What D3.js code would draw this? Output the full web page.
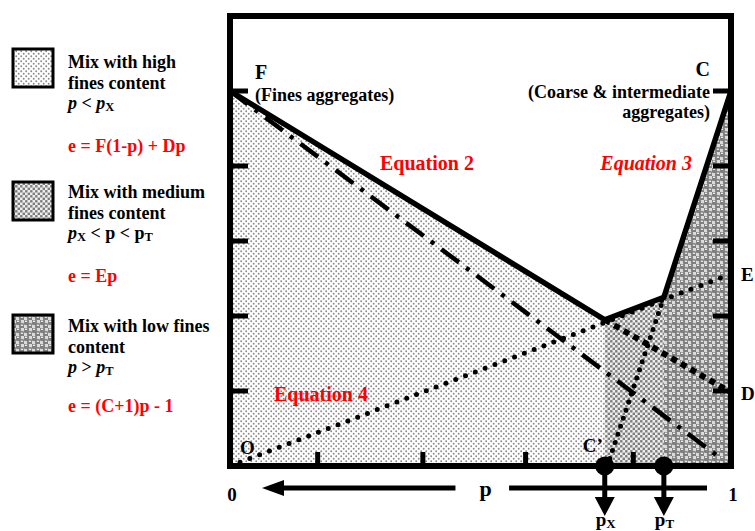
<!DOCTYPE html>
<html>
<head>
<meta charset="utf-8">
<script src="https://cdn.jsdelivr.net/npm/d3@7"></script>
<style>
  body { margin: 0; background: #fff; }
</style>
</head>
<body>
<div id="chart"></div>
<script>
// fraction of fines p on x, void ratio e on y
const eTicks = [1, 2, 3, 4, 5];
const pTicks = [0.175, 0.385, 0.59, 0.805];
const pX = 0.748;
const pT = 0.866;

const envelope = [[0, 5], [0.748, 1.95], [0.866, 2.25], [1, 5]];
const lineFD = [[0, 5], [0.98, 0.1]];
const lineOE = [[0.02, 0.05], [1, 2.56]];
const lineVD = [[0.748, 1.95], [1, 0.98]];
const lineCT = [[0.758, 0.1], [0.866, 2.25]];

const regionHigh = [[0, 0], [0, 5], [0.748, 1.95], [0.748, 0]];
const regionMed = [[0.748, 0], [0.748, 1.95], [0.866, 2.25], [0.866, 0]];
const regionLow = [[0.866, 0], [0.866, 2.25], [1, 5], [1, 0]];

const legendItems = [
  {pattern: "pLight", lines: [
    [{t: "Mix with high"}], [{t: "fines content"}],
    [{t: "p", i: 1}, {t: " < "}, {t: "p", i: 1}, {t: "X", sub: 1}]],
    eq: "e = F(1-p) + Dp"},
  {pattern: "pMed", lines: [
    [{t: "Mix with medium"}], [{t: "fines content"}],
    [{t: "p", i: 1}, {t: "X", sub: 1}, {t: " < p < p"}, {t: "T", sub: 1}]],
    eq: "e = Ep"},
  {pattern: "pLow", lines: [
    [{t: "Mix with low fines"}], [{t: "content"}],
    [{t: "p", i: 1}, {t: " > "}, {t: "p", i: 1}, {t: "T", sub: 1}]],
    eq: "e = (C+1)p - 1"}
];

const FONT = "'Liberation Serif', 'Times New Roman', Times, serif";

class FinesDiagram {

  constructor(element) {
    this.element = element;
    this.width = 755;
    this.height = 531;
    this.draw();
  }

  draw() {
    this.svg = d3.select(this.element)
      .append("svg")
      .attr("width", this.width)
      .attr("height", this.height)
      .attr("font-family", FONT)
      .attr("font-weight", "bold");

    this._createScales();
    this._definePatterns();
    this._drawRegions();
    this._drawLines();
    this._drawFrame();
    this._drawMarkers();
    this._drawLabels();
    this._drawLegend();
  }

  _createScales() {
    this.x = d3.scaleLinear().domain([0, 1]).range([230, 731]);
    this.y = d3.scaleLinear().domain([0, 6]).range([466, 16]);
    this.line = d3.line().x(d => this.x(d[0])).y(d => this.y(d[1]));
  }

  _definePatterns() {
    const defs = this.svg.append("defs");

    const light = defs.append("pattern").attr("id", "pLight")
      .attr("patternUnits", "userSpaceOnUse").attr("width", 5).attr("height", 5);
    light.append("rect").attr("width", 5).attr("height", 5).attr("fill", "#fff");
    light.selectAll("circle").data([[1.2, 1.2], [3.7, 3.7]]).join("circle")
      .attr("cx", d => d[0]).attr("cy", d => d[1]).attr("r", 0.95).attr("fill", "#8a8a8a");

    const med = defs.append("pattern").attr("id", "pMed")
      .attr("patternUnits", "userSpaceOnUse").attr("width", 5).attr("height", 5);
    med.append("rect").attr("width", 5).attr("height", 5).attr("fill", "#eeeeee");
    med.selectAll("rect.sq").data([[0.1, 0.1], [2.6, 2.6]]).join("rect")
      .attr("class", "sq")
      .attr("x", d => d[0]).attr("y", d => d[1])
      .attr("width", 2.4).attr("height", 2.4).attr("fill", "#7c7c7c");

    const low = defs.append("pattern").attr("id", "pLow")
      .attr("patternUnits", "userSpaceOnUse").attr("width", 8).attr("height", 8);
    low.append("rect").attr("width", 8).attr("height", 8).attr("fill", "#dcdcdc");
    low.selectAll("circle.b").data([[2, 2], [6, 6]]).join("circle")
      .attr("class", "b")
      .attr("cx", d => d[0]).attr("cy", d => d[1]).attr("r", 3.1).attr("fill", "#7f7f7f");
    low.selectAll("ellipse").data([[2, 1.3], [6, 5.3]]).join("ellipse")
      .attr("cx", d => d[0]).attr("cy", d => d[1]).attr("rx", 1.3).attr("ry", 0.7)
      .attr("fill", "#f4f4f4");
  }

  _drawRegions() {
    const g = this.svg.append("g");
    const regions = [[regionHigh, "pLight"], [regionMed, "pMed"], [regionLow, "pLow"]];
    g.selectAll("path")
      .data(regions)
      .join("path")
        .attr("d", d => this.line(d[0]) + "Z")
        .attr("fill", d => `url(#${d[1]})`);
  }

  _drawLines() {
    const g = this.svg.append("g").attr("fill", "none").attr("stroke", "#000");

    g.append("path").attr("d", this.line(lineFD))
      .attr("stroke-width", 4.5).attr("stroke-dasharray", "22,9,4,9");

    g.append("path").attr("d", this.line(lineOE))
      .attr("stroke-width", 5).attr("stroke-linecap", "round")
      .attr("stroke-dasharray", "0,10.5");

    g.append("path").attr("d", this.line(lineCT))
      .attr("stroke-width", 5).attr("stroke-linecap", "round")
      .attr("stroke-dasharray", "0,8.5");

    g.append("path").attr("d", this.line(lineVD))
      .attr("stroke-width", 6).attr("stroke-dasharray", "6,5");

    g.append("path").attr("d", this.line(envelope))
      .attr("stroke-width", 5.5).attr("stroke-linejoin", "miter");
  }

  _drawFrame() {
    const [x0, x1] = this.x.range();
    const [y0, y1] = this.y.range();
    const g = this.svg.append("g").attr("stroke", "#000");

    g.append("rect")
      .attr("x", x0).attr("y", y1)
      .attr("width", x1 - x0).attr("height", y0 - y1)
      .attr("fill", "none").attr("stroke-width", 6);

    g.selectAll("line.l").data(eTicks).join("line").attr("class", "l")
      .attr("x1", x0).attr("x2", x0 + 18)
      .attr("y1", d => this.y(d)).attr("y2", d => this.y(d))
      .attr("stroke-width", 5);

    g.selectAll("line.r").data(eTicks).join("line").attr("class", "r")
      .attr("x1", x1).attr("x2", x1 - 18)
      .attr("y1", d => this.y(d)).attr("y2", d => this.y(d))
      .attr("stroke-width", 5);

    g.selectAll("line.b").data(pTicks).join("line").attr("class", "b")
      .attr("x1", d => this.x(d)).attr("x2", d => this.x(d))
      .attr("y1", y0).attr("y2", y0 - 14)
      .attr("stroke-width", 5);

    // p axis arrow under the frame
    const ay = y0 + 22;
    g.append("line").attr("x1", x0 + 50).attr("x2", this.x(0.45))
      .attr("y1", ay).attr("y2", ay).attr("stroke-width", 5);
    g.append("line").attr("x1", this.x(0.557)).attr("x2", x1 - 24)
      .attr("y1", ay).attr("y2", ay).attr("stroke-width", 5);
    this.svg.append("path")
      .attr("d", `M${x0 + 32},${ay} L${x0 + 54},${ay - 8} L${x0 + 54},${ay + 8} Z`)
      .attr("fill", "#000");
  }

  _drawMarkers() {
    const y0 = this.y(0);
    const g = this.svg.append("g");
    const marks = [[pX, "X"], [pT, "T"]];

    g.selectAll("line").data(marks).join("line")
      .attr("x1", d => this.x(d[0])).attr("x2", d => this.x(d[0]))
      .attr("y1", y0).attr("y2", y0 + 36)
      .attr("stroke", "#000").attr("stroke-width", 5);

    g.selectAll("path").data(marks).join("path")
      .attr("d", d => {
        const cx = this.x(d[0]);
        return `M${cx - 10},${y0 + 31} L${cx + 10},${y0 + 31} L${cx},${y0 + 50} Z`;
      })
      .attr("fill", "#000");

    g.selectAll("circle").data(marks).join("circle")
      .attr("cx", d => this.x(d[0])).attr("cy", y0).attr("r", 9.5).attr("fill", "#000");

    const t = g.selectAll("text").data(marks).join("text")
      .attr("x", d => this.x(d[0]) - 9).attr("y", y0 + 60)
      .attr("font-size", 19);
    t.append("tspan").text("p");
    t.append("tspan").attr("font-size", 13).attr("dy", 2).text(d => d[1]);
  }

  _drawLabels() {
    const g = this.svg.append("g").attr("font-size", 18);
    const x = this.x, y = this.y;

    const add = (px, py, str, opts = {}) => g.append("text")
      .attr("x", px).attr("y", py)
      .attr("text-anchor", opts.anchor || "start")
      .attr("fill", opts.fill || "#000")
      .attr("font-style", opts.italic ? "italic" : null)
      .attr("font-size", opts.size || null)
      .text(str);

    add(x(0) + 25, y(5) - 12, "F", {size: 20});
    add(x(0) + 25, y(5) + 10, "(Fines aggregates)");
    add(x(1) - 21, y(5) - 15, "C", {anchor: "end", size: 20});
    add(x(1) - 21, y(5) + 7, "(Coarse & intermediate", {anchor: "end"});
    add(x(1) - 21, y(5) + 27, "aggregates)", {anchor: "end"});

    add(380, 170, "Equation 2", {fill: "#ff0000", size: 20});
    add(692, 170, "Equation 3", {fill: "#ff0000", size: 20, italic: true, anchor: "end"});
    add(274, 401, "Equation 4", {fill: "#ff0000", size: 20});

    add(x(1) + 10, y(2.56) + 7, "E", {size: 19});
    add(x(1) + 10, y(1) + 9, "D", {size: 19});
    add(x(0) + 10, y(0) - 12, "O", {size: 19});
    add(x(pX) - 2, y(0) - 14, "C\u2019", {anchor: "end", size: 19});

    add(x(0) + 2, y(0) + 35, "0", {anchor: "middle", size: 19});
    add(x(1) + 2, y(0) + 35, "1", {anchor: "middle", size: 19});
    add(x(0.51), y(0) + 30, "p", {anchor: "middle", size: 22});
  }

  _drawLegend() {
    const boxTops = [49, 182, 315];
    const lineTops = [68, 198, 332];
    const eqBase = [152, 282, 412];

    const g = this.svg.append("g");
    const items = g.selectAll("g").data(legendItems).join("g");

    items.append("rect")
      .attr("x", 13).attr("y", (d, i) => boxTops[i])
      .attr("width", 40).attr("height", 38)
      .attr("fill", d => `url(#${d.pattern})`)
      .attr("stroke", "#000").attr("stroke-width", 3);

    items.each(function (d, i) {
      const it = d3.select(this);
      d.lines.forEach((segs, k) => {
        const t = it.append("text")
          .attr("x", 68).attr("y", lineTops[i] + k * 20.5)
          .attr("font-size", 18);
        segs.forEach((s, j) => {
          const sp = t.append("tspan").text(s.t);
          if (s.i) sp.attr("font-style", "italic");
          if (s.sub) sp.attr("font-size", 12.5).attr("dy", 2);
          else if (j > 0 && segs[j - 1].sub) sp.attr("dy", -2);
        });
      });
      it.append("text")
        .attr("x", 68).attr("y", eqBase[i])
        .attr("font-size", 18).attr("fill", "#ff0000")
        .text(d.eq);
    });
  }
}

new FinesDiagram("#chart");
</script>
</body>
</html>
